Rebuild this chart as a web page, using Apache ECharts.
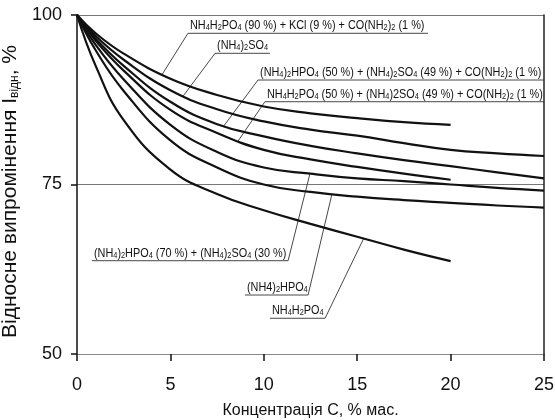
<!DOCTYPE html>
<html>
<head>
<meta charset="utf-8">
<script src="https://cdn.jsdelivr.net/npm/echarts@6/dist/echarts.min.js"></script>
<style>
  html, body { margin: 0; padding: 0; background: #fff; }
  #chart { width: 555px; height: 420px; }
</style>
</head>
<body>
<div id="chart"></div>
<script>
// Concentration points (% mass)
const concShort = [0, 1, 2.5, 5, 7.5, 10, 12.5, 15, 17.5, 20];
const concLong = [0, 1, 2.5, 5, 7.5, 10, 12.5, 15, 17.5, 20, 22.5, 25];

// Relative emission, % (one array per composition)
const mixKCl = [100, 97.3, 94.3, 90.6, 88.2, 86.5, 85.5, 84.8, 84.2, 83.8];
const ammSulfate = [100, 96.9, 93.4, 88.9, 86.1, 84.3, 83.1, 82.2, 81.1, 80.1, 79.6, 79.2];
const mixDAP50 = [100, 96.5, 92.5, 87.2, 83.9, 82.1, 80.7, 79.6, 78.6, 77.7, 76.8, 75.9];
const mixMAP50 = [100, 96.2, 91.8, 86.0, 82.6, 80.1, 78.7, 77.6, 76.6, 75.7];
const mixDAP70 = [100, 95.6, 90.5, 83.8, 79.8, 77.5, 76.6, 75.9, 75.5, 75.0, 74.5, 74.1];
const dap = [100, 94.8, 88.8, 81.5, 77.5, 75.0, 73.9, 73.2, 72.7, 72.3, 71.9, 71.6];
const map = [100, 92.5, 84.5, 77.2, 73.6, 71.2, 69.2, 67.3, 65.4, 63.7];

// Tick labels
const xTicks = [0, 5, 10, 15, 20, 25];
const yTicks = [50, 75, 100];

// Annotation texts ("_" marks a subscript digit)
const labelTexts = [
  'NH_4H_2PO_4 (90 %) + KCl (9 %) + CO(NH_2)_2 (1 %)',
  '(NH_4)_2SO_4',
  '(NH_4)_2HPO_4 (50 %) + (NH_4)_2SO_4 (49 %) + CO(NH_2)_2 (1 %)',
  'NH_4H_2PO_4 (50 %) + (NH_4)2SO_4 (49 %) + CO(NH_2)_2 (1 %)',
  '(NH_4)_2HPO_4 (70 %) + (NH_4)_2SO_4 (30 %)',
  '(NH4)_2HPO_4',
  'NH_4H_2PO_4'
];
// Underline: [left x, right x, level]; pointer tip on the curve: [x, y]; side the pointer leaves from
const labelUnderline = [
  [5.94, 18.79, 97.3], [7.39, 10.33, 94.35], [9.69, 25, 90.41], [10.06, 25, 87.21],
  [0.8, 11.3, 63.76], [8.99, 12.37, 58.7], [10.33, 13.28, 55.27]
];
const labelTip = [
  [4.55, 91.2], [5.67, 88.0], [7.82, 83.5], [8.62, 81.4],
  [12.47, 76.6], [13.65, 73.6], [15.34, 67.0]
];
const labelSide = ['left', 'left', 'left', 'left', 'right', 'right', 'right'];

const FONT = '"Liberation Sans", Arial, sans-serif';

function pairs(xs, ys) { return ys.map((v, i) => [xs[i], v]); }
function toRich(s) { return s.replace(/_(\d)/g, '{s|$1}'); }

const curves = [
  [concShort, mixKCl], [concLong, ammSulfate], [concLong, mixDAP50], [concShort, mixMAP50],
  [concLong, mixDAP70], [concLong, dap], [concShort, map]
];

const series = curves.map(([xs, ys]) => ({
  type: 'line', data: pairs(xs, ys), smooth: 0.45, symbol: 'none',
  lineStyle: { color: '#111', width: 2.2 }, z: 3, silent: true
}));

labelUnderline.forEach((u, i) => {
  const tip = labelTip[i];
  const pts = labelSide[i] === 'left'
    ? [tip, [u[0], u[2]], [u[1], u[2]]]
    : [[u[0], u[2]], [u[1], u[2]], tip];
  series.push({
    type: 'line', data: pts, symbol: 'none', smooth: false,
    lineStyle: { color: '#333', width: 0.9 }, z: 2, silent: true
  });
});

const chart = echarts.init(document.getElementById('chart'), null, { renderer: 'canvas' });

chart.setOption({
  animation: false,
  grid: { left: 77, right: 11, top: 15, bottom: 66, containLabel: false, outerBoundsMode: 'none' },
  xAxis: {
    type: 'value', min: 0, max: 25, interval: 5,
    name: 'Концентрація С, % мас.', nameLocation: 'middle', nameGap: 49,
    nameTextStyle: { fontFamily: FONT, fontSize: 16, color: '#111' },
    axisLine: { show: true, lineStyle: { color: '#888', width: 1.2 } },
    axisTick: { show: true, length: 7, inside: false, lineStyle: { color: '#111', width: 1.5 } },
    axisLabel: { fontFamily: FONT, fontSize: 18, color: '#111', margin: 22,
      formatter: v => xTicks.includes(v) ? String(v) : '' },
    splitLine: { show: false }
  },
  yAxis: [{
    type: 'value', min: 50, max: 100, interval: 25,
    name: 'Відносне випромінення I{s|відн}, %', nameLocation: 'middle', nameGap: 52, nameRotate: 90,
    nameTextStyle: { fontFamily: FONT, fontSize: 21, color: '#111', padding: [0, 14, 0, 0],
      rich: { s: { fontFamily: FONT, fontSize: 12, color: '#111', verticalAlign: 'bottom', lineHeight: 8 } } },
    axisLine: { show: true, lineStyle: { color: '#111', width: 1.5 } },
    axisTick: { show: true, length: 6, lineStyle: { color: '#111', width: 1.5 } },
    axisLabel: { fontFamily: FONT, fontSize: 18, color: '#111', margin: 15,
      formatter: v => yTicks.includes(v) ? String(v) : '' },
    splitLine: { show: true, lineStyle: { color: '#777', width: 1 } }
  }, {
    type: 'value', min: 50, max: 100, position: 'right',
    axisLine: { show: true, lineStyle: { color: '#222', width: 1.5 } },
    axisTick: { show: false }, axisLabel: { show: false }, splitLine: { show: false }
  }],
  series: series
});

// Annotation texts sit on their underlines, positioned through the axes
const graphics = labelTexts.map((t, i) => {
  const u = labelUnderline[i];
  const p = chart.convertToPixel({ gridIndex: 0 }, [u[0], u[2]]);
  return {
    type: 'text', x: p[0] + 2, y: p[1] - 1, scaleX: 0.87, z: 10, silent: true,
    style: {
      text: toRich(t), fill: '#111', font: '12.5px ' + FONT,
      verticalAlign: 'bottom', align: 'left',
      rich: { s: { fontSize: 8.5, fontFamily: FONT, fill: '#111', verticalAlign: 'bottom', lineHeight: 6 } }
    }
  };
});
chart.setOption({ graphic: graphics });
</script>
</body>
</html>
